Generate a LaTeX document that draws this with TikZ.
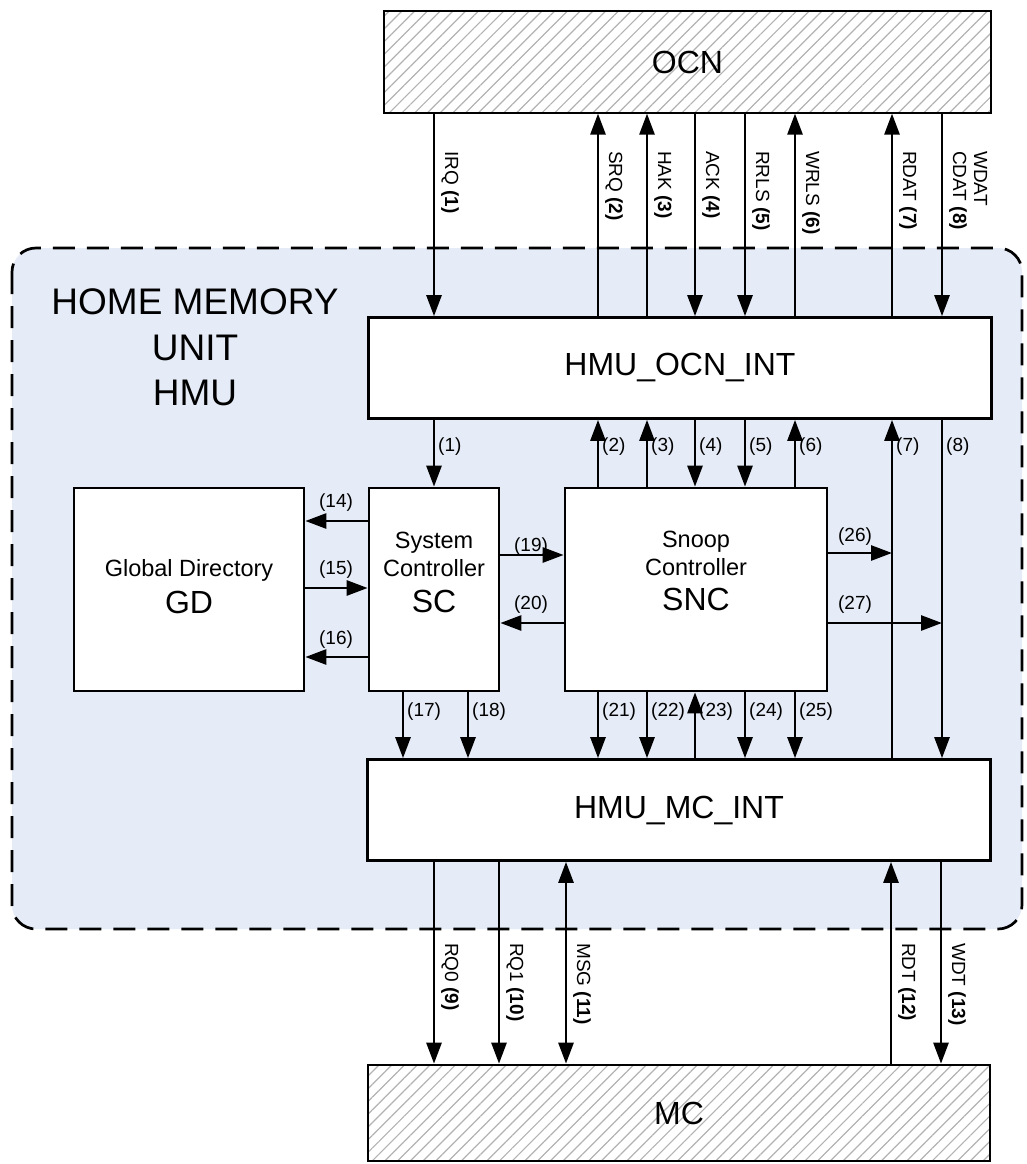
\documentclass[tikz,border=0pt]{standalone}
\usepackage{fontspec}
\setmainfont{Liberation Sans}
\usetikzlibrary{arrows.meta,patterns.meta}
\definecolor{hmufill}{RGB}{230,236,247}
\begin{document}
\begin{tikzpicture}[x=1pt, y=-1pt, >={Triangle[length=21pt,width=15pt]},
    blk/.style={draw, line width=2.7pt, fill=white, inner sep=0pt},
    netblk/.style={draw, line width=2.7pt, inner sep=0pt,
        pattern={Lines[angle=45,distance=9pt,line width=1.2pt]}, pattern color=gray!60,
        font=\fontsize{32}{32}\selectfont},
    intblk/.style={blk, minimum width=623pt, minimum height=101pt, font=\fontsize{32}{32}\selectfont},
    ctrltxt/.style={align=center, font=\fontsize{23.5}{28}\selectfont},
    sig/.style={line width=2.7pt, ->},
    num/.style={font=\fontsize{19}{21}\selectfont, inner sep=1pt},
    bus/.style={num, rotate=-90, anchor=south west, align=left},
    hmuzone/.style={fill=hmufill, line width=2.7pt, dash pattern=on 22pt off 12pt, rounded corners=24pt}]

  \useasboundingbox (0,0) rectangle (1026,1164);
  % home memory unit
  \draw[hmuzone] (12,248) rectangle (1022,929);
  \node[align=center, font=\fontsize{37}{45.5}\selectfont] (hmu) at (195,347.5) {HOME MEMORY\\UNIT\\HMU};

  % blocks
  \node[netblk, minimum width=607pt, minimum height=102pt] (ocn) at (687.5,62) {OCN};
  \node[intblk] (ocnint) at (680,368) {HMU\_OCN\_INT};
  \node[blk, minimum width=230pt, minimum height=203pt] (gd) at (189,589.5) {};
  \node[blk, minimum width=130pt, minimum height=203pt] (sc) at (434,589.5) {};
  \node[blk, minimum width=262pt, minimum height=203pt] (snc) at (696,589.5) {};
  \node[ctrltxt] (gdtxt) at (189,586.5) {Global Directory\\[8.5pt]{\fontsize{32}{32}\selectfont GD}};
  \node[ctrltxt] (sctxt) at (434,572.5) {System\\Controller\\[8.5pt]{\fontsize{32}{32}\selectfont SC}};
  \node[ctrltxt] (snctxt) at (696,570.5) {Snoop\\Controller\\[7pt]{\fontsize{32}{32}\selectfont SNC}};
  \node[intblk] (mcint) at (679,810) {HMU\_MC\_INT};
  \node[netblk, minimum width=622pt, minimum height=96pt] (mc) at (679,1113) {MC};

  % OCN <-> HMU_OCN_INT
  \foreach \x in {434,695,745,942}
    \draw[sig] (ocn.south -| \x,0) -- (ocnint.north -| \x,0);
  \foreach \x in {598,647,795,892}
    \draw[sig] (ocnint.north -| \x,0) -- (ocn.south -| \x,0);
  \foreach \x/\txt in {434/IRQ \textbf{(1)}, 598/SRQ \textbf{(2)}, 647/HAK \textbf{(3)},
      695/ACK \textbf{(4)}, 745/RRLS \textbf{(5)}, 795/WRLS \textbf{(6)},
      892/RDAT \textbf{(7)}, 942/WDAT\\CDAT \textbf{(8)}}
    \node[bus] at (\x+6,150) {\txt};

  % HMU_OCN_INT <-> controllers
  \draw[sig] (ocnint.south -| sc.north) -- (sc.north);
  \foreach \x in {695,745}
    \draw[sig] (ocnint.south -| \x,0) -- (snc.north -| \x,0);
  \foreach \x in {598,647,795}
    \draw[sig] (snc.north -| \x,0) -- (ocnint.south -| \x,0);
  \draw[sig] (mcint.north -| 892,0) -- (ocnint.south -| 892,0);
  \draw[sig] (ocnint.south -| 942,0) -- (mcint.north -| 942,0);
  \foreach \x/\n in {434/1,598/2,647/3,695/4,745/5,795/6,892/7,942/8}
    \node[num, anchor=west] at (\x+3,447) {(\n)};

  % side links
  \draw[sig] (sc.west |- 0,521) -- (gd.east |- 0,521);
  \draw[sig] (gd.east |- 0,588) -- (sc.west |- 0,588);
  \draw[sig] (sc.west |- 0,657) -- (gd.east |- 0,657);
  \draw[sig] (sc.east |- 0,555) -- (snc.west |- 0,555);
  \draw[sig] (snc.west |- 0,623) -- (sc.east |- 0,623);
  \coordinate (j26) at (892,553);
  \coordinate (j27) at (942,623);
  \draw[sig] (snc.east |- j26) -- (j26);
  \draw[sig] (snc.east |- j27) -- (j27);
  \foreach \p/\n in {{336,503}/14,{336,570}/15,{336,640}/16,{531,547}/19,
      {531,605}/20,{855,537}/26,{855,605}/27}
    \node[num] at (\p) {(\n)};

  % controllers -> HMU_MC_INT
  \foreach \x in {403,468}
    \draw[sig] (sc.south -| \x,0) -- (mcint.north -| \x,0);
  \foreach \x in {598,647,745,795}
    \draw[sig] (snc.south -| \x,0) -- (mcint.north -| \x,0);
  \draw[sig] (mcint.north -| 695,0) -- (snc.south -| 695,0);
  \foreach \x/\n in {403/17,468/18,598/21,647/22,695/23,745/24,795/25}
    \node[num, anchor=west] at (\x+3,712) {(\n)};

  % HMU_MC_INT <-> MC
  \foreach \x in {434,499,941}
    \draw[sig] (mcint.south -| \x,0) -- (mc.north -| \x,0);
  \draw[sig, <->] (mcint.south -| 566,0) -- (mc.north -| 566,0);
  \draw[sig] (mc.north -| 891,0) -- (mcint.south -| 891,0);
  \foreach \x/\txt in {434/RQ0 \textbf{(9)}, 499/RQ1 \textbf{(10)}, 566/MSG \textbf{(11)},
      891/RDT \textbf{(12)}, 941/WDT \textbf{(13)}}
    \node[bus] at (\x+6,942) {\txt};
\end{tikzpicture}
\end{document}
